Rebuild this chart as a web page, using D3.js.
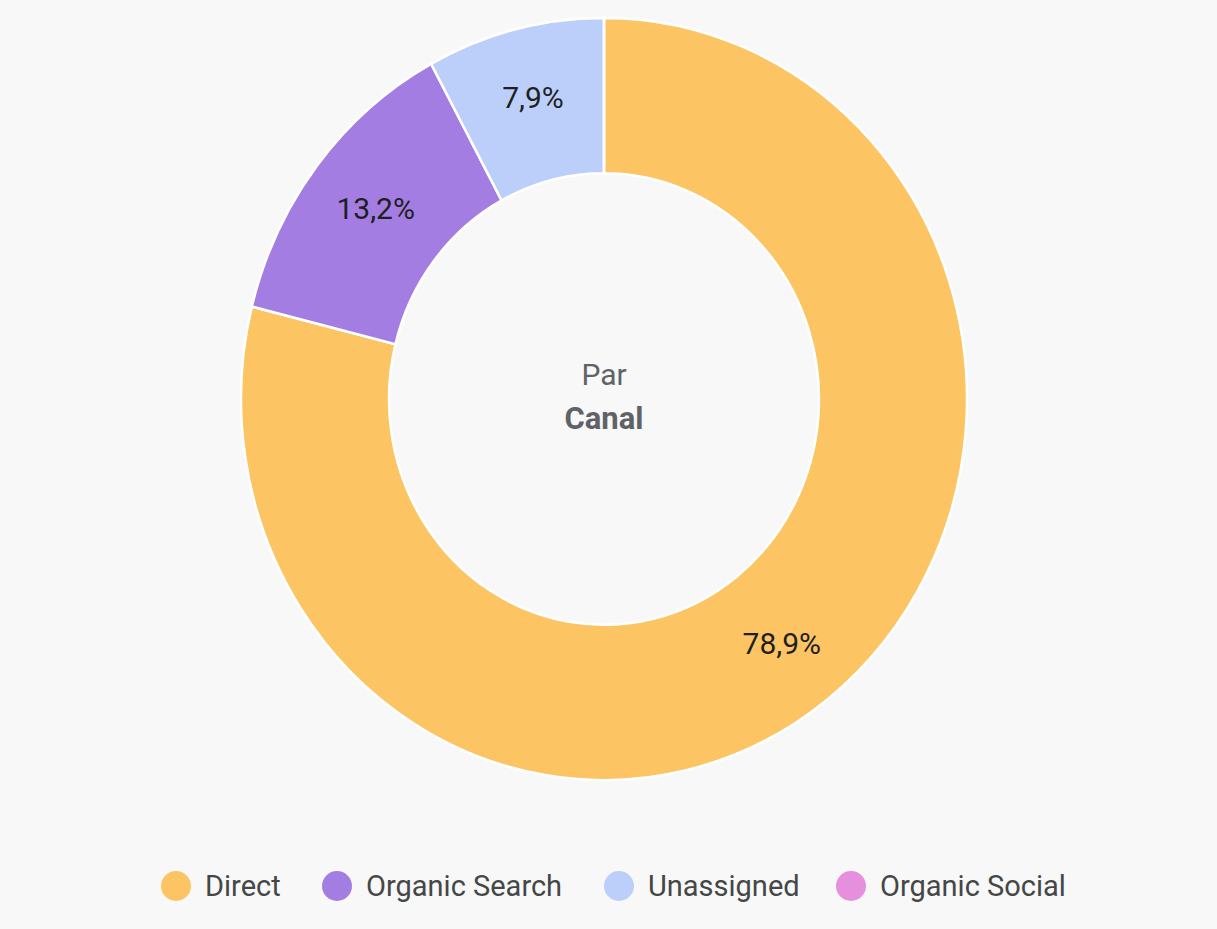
<!DOCTYPE html>
<html>
<head>
<meta charset="utf-8">
<script src="https://cdn.jsdelivr.net/npm/d3@7"></script>
<style>
  body { margin:0; background:#f8f8f8; font-family: Roboto, "Noto Sans", sans-serif; }
</style>
</head>
<body>
<div class="visHolder"></div>
<script>
const width = 1217;
const height = 929;

const channels = ['Direct', 'Organic Search', 'Unassigned', 'Organic Social'];
const shares = [78.9, 13.2, 7.9, 0];
const colors = ['#fcc463', '#a47de3', '#bccffb', '#e68fdc'];
const labels = ['78,9%', '13,2%', '7,9%', ''];

const cx = 604, cy = 399;
const outerR = 363, innerR = 215, squash = 1.05;

const svg = d3.select('.visHolder')
  .append('svg')
  .attr('width', width)
  .attr('height', height);

const data = channels.map((c, i) => ({ name: c, value: shares[i], color: colors[i], label: labels[i] }));

const pie = d3.pie().value(d => d.value).sort(null);
const arc = d3.arc().innerRadius(innerR).outerRadius(outerR);
const arcs = pie(data);

const g = svg.append('g')
  .attr('transform', 'translate(' + cx + ',' + cy + ') scale(1,' + squash + ')');

g.selectAll('path')
  .data(arcs)
  .enter()
  .append('path')
  .attr('d', arc)
  .style('fill', d => d.data.color)
  .style('stroke', '#ffffff')
  .style('stroke-width', 2.5);

// labels kept outside the squashed group so the text isn't stretched
svg.selectAll('.slice-label')
  .data(arcs.filter(d => d.data.label))
  .enter()
  .append('text')
  .attr('class', 'slice-label')
  .attr('x', d => cx + arc.centroid(d)[0])
  .attr('y', d => cy + arc.centroid(d)[1] * 1.075)
  .attr('dy', '0.35em')
  .attr('text-anchor', 'middle')
  .style('font-size', '30px')
  .style('fill', '#1f1f1f')
  .text(d => d.data.label);

svg.append('text')
  .attr('x', cx)
  .attr('y', 385)
  .attr('text-anchor', 'middle')
  .style('font-size', '30px')
  .style('fill', '#5f6368')
  .text('Par');

svg.append('text')
  .attr('x', cx)
  .attr('y', 429)
  .attr('text-anchor', 'middle')
  .style('font-size', '31px')
  .style('font-weight', 'bold')
  .style('fill', '#5f6368')
  .text('Canal');

// legend
const legendX = [176, 337, 619, 851];
const legend = svg.selectAll('.legend')
  .data(data)
  .enter()
  .append('g')
  .attr('class', 'legend')
  .attr('transform', (d, i) => 'translate(' + legendX[i] + ',886)');

legend.append('circle')
  .attr('r', 15)
  .style('fill', d => d.color);

legend.append('text')
  .attr('x', 29)
  .attr('dy', '0.35em')
  .style('font-size', '29px')
  .style('fill', '#444746')
  .text(d => d.name);
</script>
</body>
</html>
